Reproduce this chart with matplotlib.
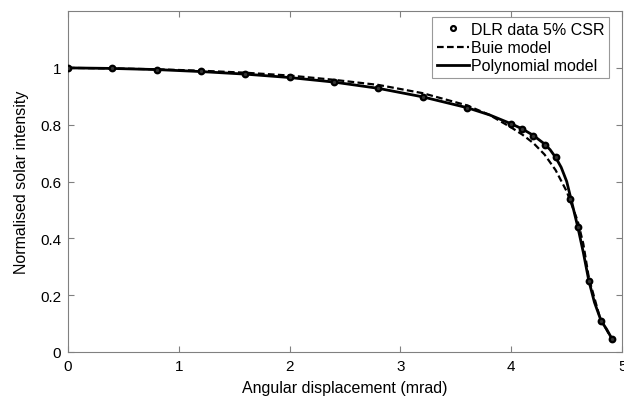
import matplotlib
matplotlib.use("Agg")
import matplotlib.pyplot as plt

plt.rcParams['font.family'] = ['Liberation Sans', 'DejaVu Sans']

# DLR measured data (5% CSR)
data_x = [0.0, 0.4, 0.8, 1.2, 1.6, 2.0, 2.4, 2.8, 3.2, 3.6, 4.0, 4.1, 4.2, 4.3, 4.4, 4.53, 4.6, 4.7, 4.81, 4.91]
data_y = [1.0, 0.998, 0.994, 0.988, 0.977, 0.967, 0.95, 0.93, 0.898, 0.86, 0.803, 0.785, 0.76, 0.73, 0.685, 0.54, 0.44, 0.25, 0.11, 0.045]

# Buie model
buie_x = [0.0, 0.4, 0.8, 1.2, 1.6, 2.0, 2.4, 2.8, 3.2, 3.6, 3.8, 4.0, 4.1, 4.2, 4.3, 4.4, 4.5, 4.6, 4.65, 4.7, 4.8, 4.9]
buie_y = [1.0, 0.998, 0.995, 0.99, 0.983, 0.973, 0.958, 0.94, 0.911, 0.868, 0.835, 0.79, 0.765, 0.735, 0.695, 0.64, 0.565, 0.46, 0.38, 0.26, 0.12, 0.05]

# Polynomial model
poly_x = [0.0, 0.4, 0.8, 1.2, 1.6, 2.0, 2.4, 2.8, 3.2, 3.6, 3.8, 4.0, 4.1, 4.2, 4.3, 4.35, 4.4, 4.45, 4.5, 4.55, 4.6, 4.65, 4.7, 4.75, 4.81, 4.86, 4.91]
poly_y = [1.0, 0.998, 0.994, 0.987, 0.978, 0.966, 0.95, 0.928, 0.898, 0.86, 0.835, 0.803, 0.785, 0.762, 0.732, 0.712, 0.685, 0.65, 0.6, 0.52, 0.44, 0.35, 0.25, 0.175, 0.11, 0.08, 0.045]

xticks = [0, 1, 2, 3, 4, 5]
yticks = [0, 0.2, 0.4, 0.6, 0.8, 1]
ytick_labels = ['0', '0.2', '0.4', '0.6', '0.8', '1']

fig = plt.figure(figsize=(6.24, 4.02), dpi=100)
ax = fig.add_axes([0.109, 0.122, 0.888, 0.848])

ax.plot(poly_x, poly_y, '-', color='black', lw=2.0, zorder=3)
ax.plot(buie_x, buie_y, '--', color='black', lw=1.6, dashes=(3, 1.5), zorder=2)
ax.plot(data_x, data_y, 'o', ms=4, mfc='#333333', mec='black', mew=1.6, zorder=4)

# legend handles
hd, = ax.plot([], [], 'o', ms=3.5, mfc='white', mec='black', mew=1.6, label='DLR data 5% CSR')
hb, = ax.plot([], [], '--', color='black', lw=1.6, dashes=(3, 1.5), label='Buie model')
hp, = ax.plot([], [], '-', color='black', lw=2.0, label='Polynomial model')
leg = ax.legend(handles=[hd, hb, hp], loc='upper right', bbox_to_anchor=(0.9765, 0.982),
                fontsize=11.5, frameon=True, fancybox=False, edgecolor='#808080',
                handlelength=2.0, handletextpad=0.1, borderpad=0.3, labelspacing=0.2,
                borderaxespad=0.0)
leg.get_frame().set_linewidth(0.8)

ax.set_xlim(0, 5)
ax.set_ylim(0, 1.2)
ax.set_xticks(xticks)
ax.set_yticks(yticks)
ax.set_yticklabels(ytick_labels)
ax.tick_params(direction='in', top=True, right=True, length=4, width=0.8,
               color='#808080', labelsize=11, pad=5)
for s in ax.spines.values():
    s.set_color('#808080')
    s.set_linewidth(0.8)

ax.set_xlabel('Angular displacement (mrad)', fontsize=11.5, labelpad=5)
ax.set_ylabel('Normalised solar intensity', fontsize=11.5, labelpad=8)

fig.savefig('out.png', dpi=100)
